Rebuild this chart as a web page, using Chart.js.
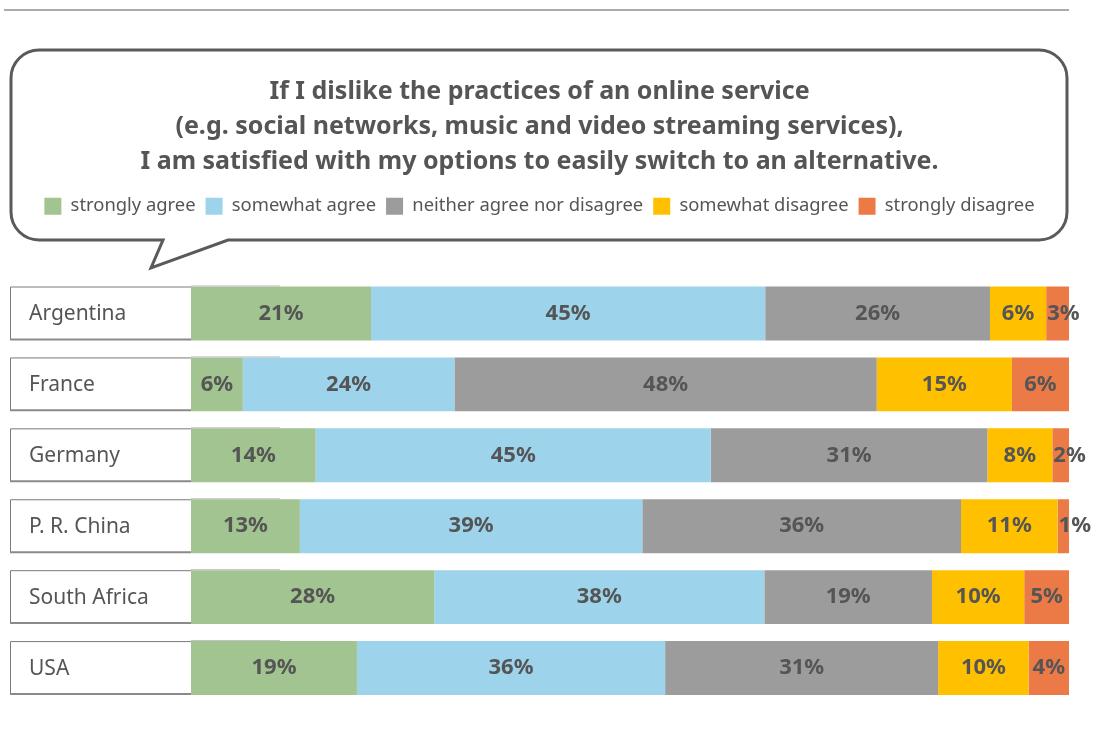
<!DOCTYPE html>
<html>
<head>
<meta charset="utf-8">
<script src="https://cdn.jsdelivr.net/npm/chart.js@4"></script>
<style>
  html, body { margin: 0; padding: 0; background: #fff; }
  canvas { display: block; }
</style>
</head>
<body>
<canvas id="switchChart" width="1104" height="734"></canvas>
<script>
// categories and series (share of respondents, %)
const countries = ["Argentina", "France", "Germany", "P. R. China", "South Africa", "USA"];
const seriesNames = ["strongly agree", "somewhat agree", "neither agree nor disagree", "somewhat disagree", "strongly disagree"];
const stronglyAgree = [20.5, 5.9, 14.2, 12.4, 27.7, 18.9];
const somewhatAgree = [44.9, 24.1, 45.0, 39.0, 37.6, 35.1];
const neither = [25.6, 48.1, 31.5, 36.3, 19.1, 31.1];
const somewhatDisagree = [6.4, 15.4, 7.4, 11.0, 10.5, 10.3];
const stronglyDisagree = [2.6, 6.5, 1.9, 1.3, 5.1, 4.6];
// printed labels as shown in the survey
const stronglyAgreeLabels = ["21%", "6%", "14%", "13%", "28%", "19%"];
const somewhatAgreeLabels = ["45%", "24%", "45%", "39%", "38%", "36%"];
const neitherLabels = ["26%", "48%", "31%", "36%", "19%", "31%"];
const somewhatDisagreeLabels = ["6%", "15%", "8%", "11%", "10%", "10%"];
const stronglyDisagreeLabels = ["3%", "6%", "2%", "1%", "5%", "4%"];
const titleLines = [
  "If I dislike the practices of an online service",
  "(e.g. social networks, music and video streaming services),",
  "I am satisfied with my options to easily switch to an alternative."
];

const colors = ["#A1C490", "#9DD4EC", "#9C9C9C", "#FFC000", "#EB7A46"];
const seriesValues = [stronglyAgree, somewhatAgree, neither, somewhatDisagree, stronglyDisagree];
const seriesLabels = [stronglyAgreeLabels, somewhatAgreeLabels, neitherLabels, somewhatDisagreeLabels, stronglyDisagreeLabels];
const FONT = "'Noto Sans', 'Open Sans', sans-serif";
const TEXT = "#555555";

// speech bubble + top rule behind everything
const bubblePlugin = {
  id: "bubble",
  beforeDraw(chart) {
    const ctx = chart.ctx;
    ctx.save();
    ctx.fillStyle = "#fff";
    ctx.fillRect(0, 0, chart.width, chart.height);

    ctx.strokeStyle = "#ababab";
    ctx.lineWidth = 2;
    ctx.beginPath();
    ctx.moveTo(4, 10);
    ctx.lineTo(1069, 10);
    ctx.stroke();

    const l = 11, t = 50, r = 1067, b = 240, rad = 28;
    ctx.beginPath();
    ctx.moveTo(l + rad, t);
    ctx.lineTo(r - rad, t);
    ctx.arcTo(r, t, r, t + rad, rad);
    ctx.lineTo(r, b - rad);
    ctx.arcTo(r, b, r - rad, b, rad);
    ctx.lineTo(228, b);
    ctx.lineTo(151, 268);
    ctx.lineTo(163, b);
    ctx.lineTo(l + rad, b);
    ctx.arcTo(l, b, l, b - rad, rad);
    ctx.lineTo(l, t + rad);
    ctx.arcTo(l, t, l + rad, t, rad);
    ctx.closePath();
    ctx.fillStyle = "#fff";
    ctx.fill();
    ctx.strokeStyle = "#5a5a5a";
    ctx.lineWidth = 3;
    ctx.lineJoin = "miter";
    ctx.stroke();
    ctx.restore();
  },
};

// country name boxes on the left and value labels in the bars
const labelsPlugin = {
  id: "rowLabels",
  afterDatasetsDraw(chart) {
    const ctx = chart.ctx;
    const left = chart.chartArea.left;
    const meta0 = chart.getDatasetMeta(0);
    ctx.save();
    meta0.data.forEach((bar, i) => {
      const top = bar.y - bar.height / 2;
      const h = bar.height;
      ctx.fillStyle = "#fff";
      ctx.fillRect(10, top, left - 10, h);
      ctx.strokeStyle = "#bdbdbd";
      ctx.lineWidth = 1;
      ctx.beginPath();
      ctx.moveTo(left, top - 0.5);
      ctx.lineTo(280, top - 0.5);
      ctx.stroke();
      ctx.strokeStyle = "#7a7a7a";
      ctx.beginPath();
      ctx.moveTo(left, top + 0.5);
      ctx.lineTo(10.5, top + 0.5);
      ctx.lineTo(10.5, top + h - 1);
      ctx.stroke();
      ctx.strokeStyle = "#8a8a8a";
      ctx.lineWidth = 2;
      ctx.beginPath();
      ctx.moveTo(10, top + h - 1);
      ctx.lineTo(left, top + h - 1);
      ctx.stroke();

      ctx.fillStyle = TEXT;
      ctx.font = "21px " + FONT;
      ctx.textAlign = "left";
      ctx.textBaseline = "middle";
      ctx.fillText(countries[i], 29, bar.y + 1);
    });

    ctx.font = "bold 22px " + FONT;
    ctx.fillStyle = TEXT;
    ctx.textBaseline = "middle";
    chart.data.datasets.forEach((ds, d) => {
      chart.getDatasetMeta(d).data.forEach((bar, i) => {
        const text = seriesLabels[d][i];
        const w = Math.abs(bar.x - bar.base);
        const tw = ctx.measureText(text).width;
        if (tw + 4 > w) {
          ctx.textAlign = "left";
          ctx.fillText(text, Math.min(bar.base, bar.x) + 1, bar.y);
        } else {
          ctx.textAlign = "center";
          ctx.fillText(text, (bar.x + bar.base) / 2, bar.y);
        }
      });
    });
    ctx.restore();
  },
};

const datasets = seriesNames.map((name, d) => ({
  label: name,
  data: seriesValues[d],
  backgroundColor: colors[d],
  borderWidth: 0,
  categoryPercentage: 1,
  barPercentage: 0.76,
}));

new Chart(document.getElementById("switchChart"), {
  type: "bar",
  data: { labels: countries, datasets },
  plugins: [bubblePlugin, labelsPlugin],
  options: {
    indexAxis: "y",
    responsive: false,
    animation: false,
    layout: {
      padding: { top: 60, left: 10, right: 35, bottom: 30.5 },
    },
    plugins: {
      title: {
        display: true,
        text: titleLines,
        color: TEXT,
        font: { family: FONT, size: 25, weight: "bold", lineHeight: 35 / 25 },
        padding: { top: 14.5, bottom: 7.5 },
      },
      legend: {
        display: true,
        position: "top",
        labels: {
          color: TEXT,
          font: { family: FONT, size: 18.4 },
          boxWidth: 17,
          boxHeight: 17,
          padding: 10,
        },
      },
      tooltip: { enabled: false },
    },
    scales: {
      x: {
        stacked: true,
        position: "top",
        min: 0,
        max: 100,
        grid: { display: false },
        border: { display: false },
        ticks: { display: false },
        afterFit(scale) {
          scale.height = 52.6;
        },
      },
      y: {
        stacked: true,
        grid: { display: false },
        border: { display: false },
        ticks: { display: false },
        afterFit(scale) {
          scale.width = 181;
        },
      },
    },
  },
});
</script>
</body>
</html>
